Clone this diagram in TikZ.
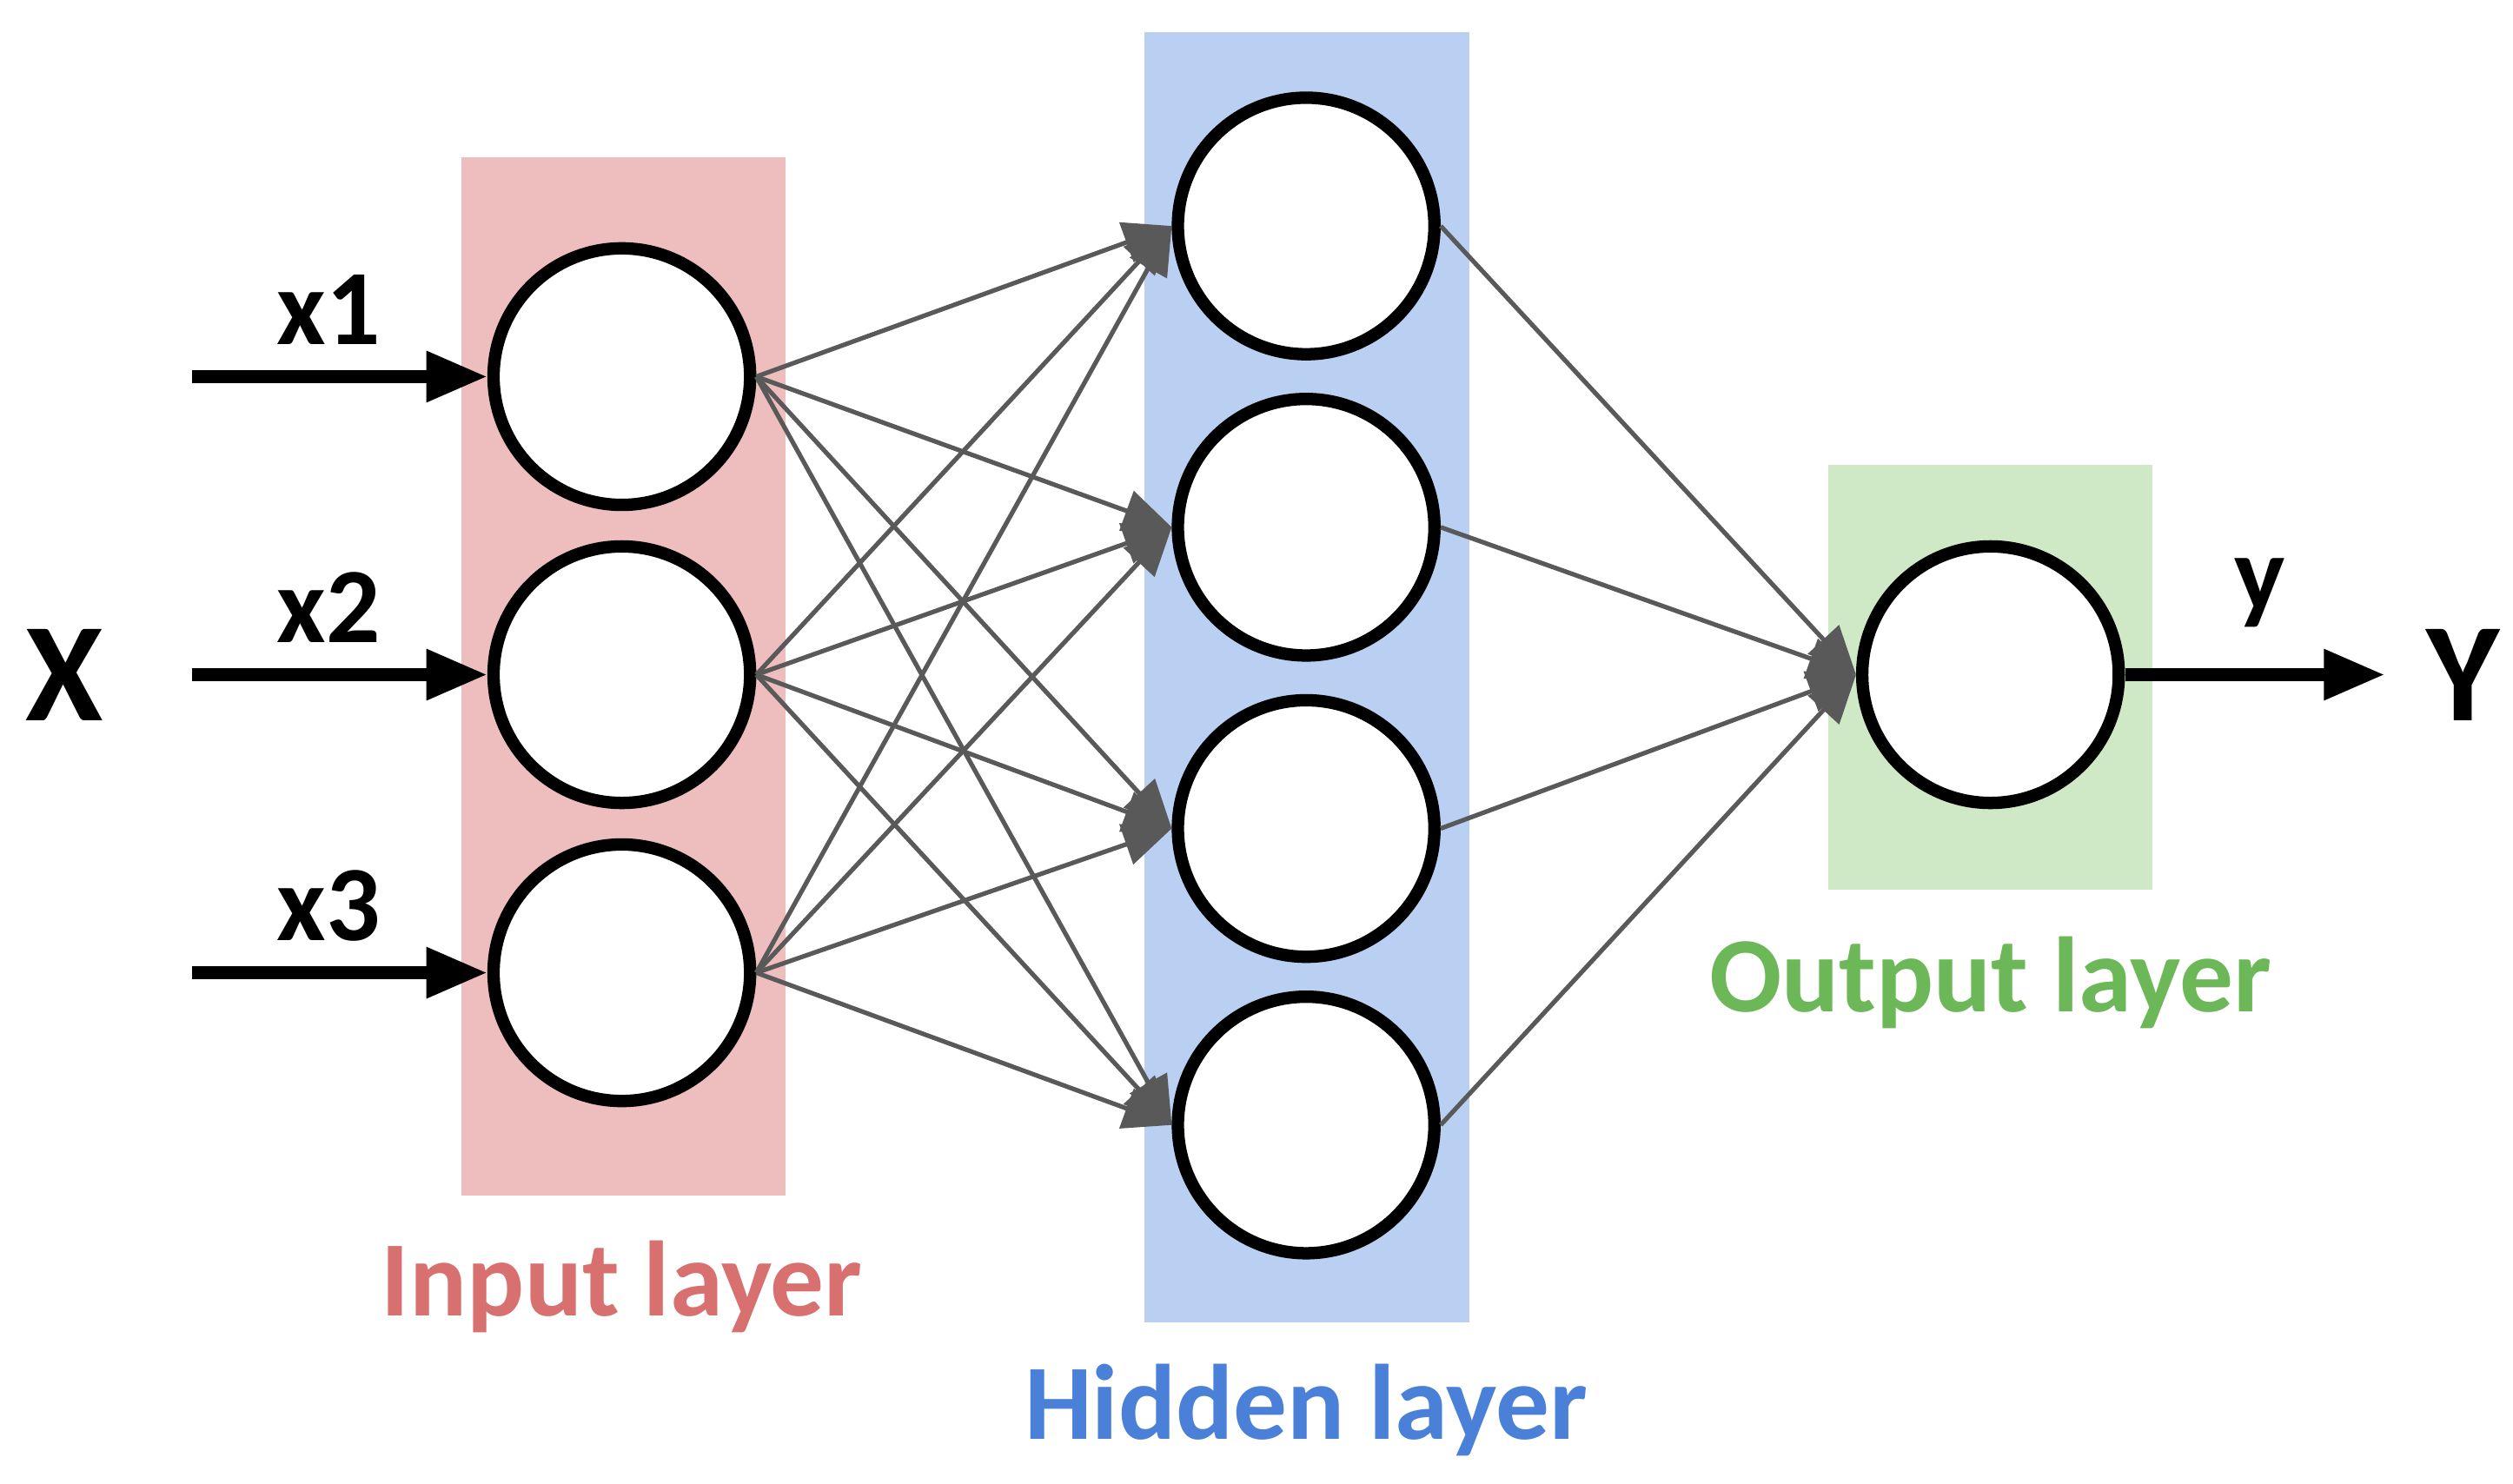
\documentclass[tikz,border=0pt]{standalone}
\usepackage{fontspec}
\setmainfont{Carlito}
\usetikzlibrary{arrows.meta}
\definecolor{inbg}{HTML}{EEBDBD}
\definecolor{hidbg}{HTML}{B9D0F2}
\definecolor{outbg}{HTML}{CFE8C6}
\definecolor{intx}{HTML}{D87070}
\definecolor{hidtx}{HTML}{4A80D8}
\definecolor{outtx}{HTML}{6CB858}
\begin{document}
\begin{tikzpicture}[x=0.01cm,y=-0.01cm,
  neuron/.style={circle,draw=black,line width=2.2pt,fill=white,minimum size=1.6cm,inner sep=0},
  conn/.style={draw=black!65,line width=0.8pt,-{Triangle[length=0.3cm,width=0.26cm]}},
  inarr/.style={line width=2.2pt,-{Triangle[length=0.38cm,width=0.3cm]}},
  lbl/.style={font=\bfseries\fontsize{19}{22}\selectfont},
  xl/.style={font=\bfseries\fontsize{19}{22}\selectfont}]
\useasboundingbox (0,0) rectangle (1568,926);
\fill[inbg] (288,98) rectangle (490,746);
\fill[hidbg] (714,20) rectangle (917,825);
\fill[outbg] (1141,290) rectangle (1343,555);
\foreach \i/\y in {1/235,2/421,3/607} \node[neuron] (i\i) at (388,\y) {};
\foreach \i/\y in {1/141,2/329,3/517,4/702} \node[neuron] (h\i) at (815,\y) {};
\node[neuron] (o) at (1242,421) {};
\foreach \i in {1,2,3} \foreach \j in {1,2,3,4} \draw[conn] (i\i.east) -- (h\j.west);
\foreach \j in {1,2,3,4} \draw[conn] (h\j.east) -- (o.west);
\foreach \i/\y in {1/235,2/421,3/607} {
  \coordinate (s\i) at (120,\y);
  \draw[inarr] (s\i) -- (i\i.west);
  \node[xl] (l\i) at (205,\y-42) {x\i};
}
\coordinate (e) at (1488,421);
\draw[inarr] (o.east) -- (e);
\node[xl] (ly) at (1410,370) {y};
\node[font=\bfseries\fontsize{25}{29}\selectfont] (X) at (40,421) {X};
\node[font=\bfseries\fontsize{25}{29}\selectfont] (Y) at (1537,421) {Y};
\node[lbl,text=intx] (ti) at (388,803) {Input layer};
\node[lbl,text=hidtx] (th) at (815,880) {Hidden layer};
\node[lbl,text=outtx] (to) at (1242,613) {Output layer};
\end{tikzpicture}
\end{document}
